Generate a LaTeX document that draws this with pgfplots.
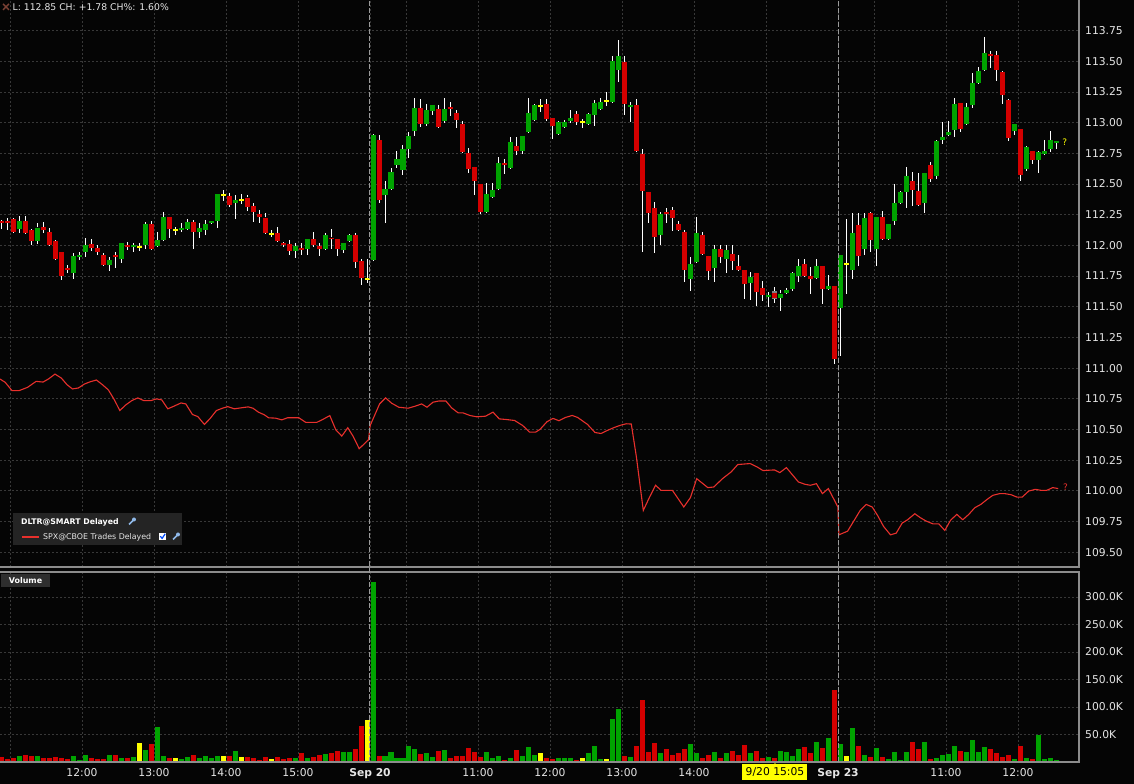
\documentclass[border=0pt]{standalone}
\usepackage{pgfplots}
\pgfplotsset{compat=1.18}
\usepackage{pgfplotstable}
\usepackage{fontspec}
\setmainfont{DejaVu Sans}

\definecolor{bg}{HTML}{050505}
\definecolor{cgreen}{HTML}{00A300}
\definecolor{cred}{HTML}{D40000}
\definecolor{cyel}{HTML}{FFFF00}
\definecolor{gridc}{HTML}{383838}
\definecolor{axisc}{HTML}{8C8C8C}
\definecolor{dayc}{HTML}{9A9A9A}
\definecolor{spx}{HTML}{E8302C}
\definecolor{lbl}{HTML}{E6E6E6}
\definecolor{boxc}{HTML}{242424}
\definecolor{volc}{HTML}{2E2E2E}
\definecolor{iconc}{HTML}{8FB8E8}
\definecolor{xred}{HTML}{7A4034}

\begin{document}
% u = bars since Sep 20 09:30 (5 min bars), candle centre at k+0.5
\pgfplotstableread{
u o h l c v
-61.5 112.198 112.210 112.130 112.185 8.9
-60.5 112.198 112.220 112.125 112.185 5.3
-59.5 112.212 112.220 112.098 112.111 7.1
-58.5 112.133 112.239 112.098 112.198 10.7
-57.5 112.198 112.239 112.098 112.103 12.0
-56.5 112.125 112.136 112.003 112.038 10.7
-55.5 112.038 112.179 112.011 112.147 10.1
-54.5 112.147 112.193 112.098 112.128 7.1
-53.5 112.106 112.139 111.998 112.003 7.1
-52.5 112.035 112.043 111.885 111.889 8.9
-51.5 111.946 111.950 111.717 111.750 7.1
-50.5 111.815 111.840 111.777 111.802 5.3
-49.5 111.774 111.935 111.728 111.913 10.7
-48.5 111.908 111.948 111.880 111.921 3.5
-47.5 111.948 112.057 111.908 112.003 12.6
-46.5 112.011 112.052 111.957 111.981 7.1
-45.5 111.978 112.003 111.921 111.948 5.3
-44.5 111.921 111.940 111.835 111.840 5.3
-43.5 111.840 111.908 111.793 111.880 12.6
-42.5 111.921 111.948 111.818 111.908 12.6
-41.5 111.889 112.022 111.859 112.019 7.1
-40.5 112.003 112.030 111.962 111.984 7.1
-39.5 111.984 112.016 111.948 112.000 8.9
-38.5 111.990 112.016 111.957 111.990 33.7
-37.5 112.003 112.193 111.970 112.174 21.6
-36.5 112.174 112.198 111.965 111.970 31.9
-35.5 111.995 112.111 111.989 112.043 63.3
-34.5 112.043 112.272 112.040 112.231 10.7
-33.5 112.231 112.235 112.062 112.130 7.1
-32.5 112.130 112.152 112.084 112.130 7.1
-31.5 112.128 112.185 112.106 112.141 5.3
-30.5 112.136 112.215 112.125 112.193 8.9
-29.5 112.193 112.207 111.973 112.111 12.6
-28.5 112.111 112.179 112.062 112.141 7.1
-27.5 112.128 112.207 112.084 112.177 10.7
-26.5 112.185 112.201 112.183 112.198 7.1
-25.5 112.201 112.420 112.141 112.418 10.7
-24.5 112.410 112.451 112.364 112.410 10.7
-23.5 112.402 112.424 112.315 112.329 10.7
-22.5 112.348 112.410 112.217 112.370 19.8
-21.5 112.370 112.418 112.337 112.370 8.9
-20.5 112.391 112.410 112.283 112.315 8.9
-19.5 112.321 112.342 112.193 112.272 7.1
-18.5 112.255 112.288 112.179 112.234 3.5
-17.5 112.228 112.261 112.100 112.103 8.9
-16.5 112.095 112.125 112.071 112.095 5.3
-15.5 112.098 112.147 112.035 112.038 8.9
-14.5 112.019 112.030 111.989 112.003 5.3
-13.5 112.011 112.043 111.921 111.957 7.1
-12.5 111.957 112.016 111.899 111.995 7.1
-11.5 111.981 112.016 111.921 111.967 15.6
-10.5 111.973 112.055 111.921 112.052 7.1
-9.5 112.052 112.109 111.989 112.003 8.9
-8.5 111.995 112.016 111.913 111.973 12.6
-7.5 111.973 112.103 111.970 112.084 14.4
-6.5 112.065 112.133 111.973 112.052 16.2
-5.5 112.052 112.055 111.913 111.973 19.2
-4.5 111.965 112.022 111.935 112.019 18.0
-3.5 112.038 112.092 112.035 112.084 18.0
-2.5 112.084 112.098 111.818 111.867 23.4
-1.5 111.872 111.889 111.677 111.736 65.1
-0.5 111.730 111.889 111.696 111.730 77.2
0.5 111.881 112.905 111.870 112.900 327.2
1.5 112.859 112.900 112.348 112.370 10.0
2.5 112.411 112.525 112.185 112.459 10.1
3.5 112.459 112.628 112.450 112.598 17.4
4.5 112.655 112.769 112.628 112.704 6.5
5.5 112.614 112.818 112.574 112.785 6.5
6.5 112.785 112.927 112.712 112.891 28.3
7.5 112.932 113.201 112.894 113.120 22.8
8.5 113.120 113.193 112.965 112.989 13.8
9.5 112.989 113.152 112.976 113.103 15.6
10.5 113.095 113.146 113.063 113.144 8.3
11.5 113.111 113.144 112.963 112.965 19.2
12.5 113.014 113.201 113.000 113.111 21.0
13.5 113.128 113.169 113.055 113.111 6.5
14.5 113.079 113.103 112.959 113.022 10.1
15.5 112.989 113.014 112.755 112.761 10.1
16.5 112.753 112.794 112.590 112.622 24.6
17.5 112.639 112.641 112.411 112.525 17.4
18.5 112.500 112.503 112.256 112.272 8.3
19.5 112.272 112.508 112.265 112.419 17.4
20.5 112.394 112.508 112.390 112.451 6.5
21.5 112.459 112.720 112.455 112.671 10.1
22.5 112.671 112.704 112.582 112.655 2.9
23.5 112.631 112.883 112.628 112.843 6.5
24.5 112.810 112.883 112.737 112.769 21.0
25.5 112.769 112.894 112.745 112.891 10.1
26.5 112.924 113.201 112.920 113.079 26.4
27.5 113.022 113.150 113.020 113.144 12.0
28.5 113.140 113.193 113.087 113.140 15.6
29.5 113.152 113.193 113.014 113.030 6.5
30.5 113.038 113.040 112.867 112.973 4.7
31.5 112.908 113.010 112.905 113.006 6.5
32.5 112.965 113.022 112.960 113.006 6.5
33.5 113.014 113.103 112.997 113.038 6.5
34.5 113.071 113.095 112.981 113.006 2.9
35.5 113.005 113.030 112.960 113.005 6.5
36.5 112.989 113.075 112.985 113.071 15.6
37.5 113.063 113.185 112.973 113.160 28.3
38.5 113.111 113.201 113.100 113.169 4.7
39.5 113.180 113.250 113.136 113.180 4.7
40.5 113.172 113.544 113.158 113.503 78.9
41.5 113.430 113.674 113.335 113.544 97.0
42.5 113.498 113.544 113.063 113.153 10.1
43.5 113.126 113.172 113.009 113.145 8.3
44.5 113.145 113.191 112.770 112.772 28.3
45.5 112.745 112.786 111.949 112.446 113.4
46.5 112.433 112.435 112.185 112.267 17.4
47.5 112.302 112.351 111.941 112.066 33.7
48.5 112.088 112.270 112.003 112.256 15.6
49.5 112.272 112.302 112.185 112.259 22.8
50.5 112.289 112.313 112.120 112.226 12.0
51.5 112.172 112.196 112.120 112.126 15.6
52.5 112.109 112.126 111.704 111.799 22.8
53.5 111.729 111.903 111.631 111.846 31.9
54.5 111.867 112.232 111.860 112.101 15.6
55.5 112.085 112.109 111.930 111.933 6.5
56.5 111.914 111.916 111.718 111.794 12.0
57.5 111.819 112.003 111.704 111.971 17.4
58.5 111.971 112.003 111.859 111.908 6.5
59.5 111.892 112.003 111.778 111.963 15.6
60.5 111.930 112.003 111.800 111.876 19.2
61.5 111.832 111.922 111.790 111.799 12.0
62.5 111.799 111.800 111.563 111.688 30.0
63.5 111.696 111.783 111.555 111.742 15.6
64.5 111.775 111.777 111.509 111.623 19.2
65.5 111.655 111.710 111.550 111.596 6.5
66.5 111.582 111.623 111.500 111.596 8.3
67.5 111.617 111.664 111.533 111.569 6.5
68.5 111.574 111.636 111.468 111.609 19.2
69.5 111.615 111.650 111.610 111.636 17.4
70.5 111.645 111.786 111.631 111.772 10.1
71.5 111.753 111.889 111.704 111.832 22.8
72.5 111.846 111.889 111.750 111.753 26.4
73.5 111.751 111.827 111.604 111.726 15.6
74.5 111.737 111.889 111.735 111.832 35.5
75.5 111.832 111.834 111.522 111.642 24.6
76.5 111.642 111.759 111.640 111.669 42.8
77.5 111.669 111.670 111.033 111.071 131.5
78.5 111.492 111.925 111.098 111.922 31.9
79.5 111.850 112.215 111.604 111.850 10.1
80.5 111.800 112.267 111.726 112.101 62.7
81.5 112.166 112.267 111.832 111.914 28.3
82.5 111.971 112.267 111.922 112.223 12.0
83.5 112.264 112.272 111.949 112.044 8.3
84.5 111.971 112.235 111.832 112.232 24.6
85.5 112.232 112.281 112.050 112.052 8.3
86.5 112.052 112.175 112.050 112.174 4.7
87.5 112.199 112.501 112.166 112.349 17.4
88.5 112.346 112.440 112.340 112.435 2.9
89.5 112.435 112.639 112.308 112.566 17.4
90.5 112.525 112.598 112.321 112.452 35.5
91.5 112.444 112.590 112.320 112.329 22.8
92.5 112.346 112.592 112.264 112.590 35.5
93.5 112.655 112.680 112.517 112.541 4.7
94.5 112.566 112.855 112.541 112.851 6.5
95.5 112.859 113.006 112.827 112.884 12.0
96.5 112.903 113.014 112.900 112.924 13.8
97.5 112.941 113.202 112.886 113.153 28.3
98.5 113.161 113.162 112.927 112.949 19.2
99.5 112.990 113.161 112.985 113.128 17.4
100.5 113.145 113.405 113.117 113.324 40.9
101.5 113.324 113.454 113.320 113.422 17.4
102.5 113.430 113.699 113.425 113.568 26.4
103.5 113.560 113.585 113.449 113.547 22.8
104.5 113.552 113.585 113.340 113.430 15.6
105.5 113.414 113.422 113.153 113.226 8.3
106.5 113.185 113.190 112.851 112.878 12.0
107.5 112.935 112.992 112.900 112.990 4.7
108.5 112.949 112.950 112.525 112.574 28.3
109.5 112.623 112.810 112.607 112.802 6.5
110.5 112.770 112.772 112.664 112.696 4.7
111.5 112.696 112.770 112.590 112.761 48.2
112.5 112.745 112.859 112.740 112.770 4.7
113.5 112.789 112.933 112.761 112.859 6.5
114.5 112.835 112.852 112.786 112.851 2.9
}\candles

% SPX overlay, read in the price scale of the chart
\pgfplotstableread{
u p
-61.67 110.911
-60.8 110.884
-59.66 110.816
-58.5 110.816
-57.08 110.843
-55.64 110.892
-54.5 110.886
-53.6 110.911
-52.5 110.951
-51.45 110.919
-50.5 110.865
-49.6 110.830
-48.6 110.838
-47.6 110.870
-46.6 110.889
-45.6 110.903
-44.6 110.865
-43.6 110.822
-42.6 110.741
-41.7 110.654
-40.7 110.700
-39.7 110.735
-38.7 110.757
-37.7 110.735
-36.5 110.735
-35.6 110.749
-34.7 110.741
-33.7 110.668
-32.7 110.689
-31.5 110.716
-30.7 110.708
-29.6 110.622
-28.7 110.605
-27.6 110.541
-26.7 110.586
-25.6 110.654
-24.6 110.673
-23.7 110.686
-22.6 110.668
-21.5 110.676
-20.3 110.684
-19.5 110.673
-18.6 110.641
-17.6 110.619
-16.9 110.595
-15.75 110.592
-14.7 110.578
-13.75 110.595
-11.85 110.595
-10.7 110.557
-8.9 110.557
-7.7 110.586
-6.7 110.613
-5.7 110.497
-4.7 110.446
-3.7 110.514
-2.8 110.443
-1.8 110.343
-0.25 110.416
0.03 110.532
1.6 110.708
2.6 110.757
3.6 110.714
4.8 110.681
6.35 110.673
7.5 110.689
8.6 110.708
9.5 110.681
10.5 110.722
11.5 110.732
12.65 110.732
13.6 110.676
14.7 110.635
15.5 110.635
16.7 110.613
17.8 110.603
19.25 110.608
20.5 110.641
21.55 110.586
22.7 110.581
24.1 110.573
25.45 110.532
26.6 110.478
27.6 110.478
28.33 110.500
29.5 110.563
30.5 110.590
31.5 110.571
32.6 110.598
33.7 110.614
34.6 110.598
36.25 110.541
37.5 110.475
38.5 110.467
39.7 110.495
40.7 110.516
41.8 110.535
42.7 110.546
43.55 110.544
44.4 110.276
45.55 109.840
46.6 109.949
47.6 110.045
48.5 110.004
50.4 110.004
52.3 109.868
53.4 109.944
54.45 110.099
56.3 110.026
57.3 110.031
58.75 110.099
60.2 110.154
61.3 110.214
63.35 110.222
64.5 110.195
65.5 110.165
67.4 110.170
68.3 110.148
69.4 110.189
71.4 110.072
72.5 110.053
73.4 110.045
74.4 110.058
75.4 109.977
76.4 110.018
77.98 109.868
78.15 109.641
79.6 109.671
80.7 109.759
81.7 109.840
82.7 109.889
83.7 109.868
84.6 109.799
85.6 109.709
86.75 109.641
87.7 109.655
88.7 109.737
89.6 109.764
90.8 109.813
91.75 109.780
92.7 109.753
93.8 109.731
94.8 109.731
95.8 109.677
96.75 109.759
97.8 109.808
98.8 109.764
99.8 109.808
100.8 109.862
101.8 109.889
102.8 109.928
103.8 109.963
104.95 109.977
105.8 109.977
106.85 109.968
107.8 109.949
108.7 109.949
109.8 109.998
110.9 110.012
111.8 110.004
112.8 110.004
113.8 110.026
114.7 110.018
}\spxdata

\begin{tikzpicture}[x=1bp,y=1bp]
\fill[bg] (0,0) rectangle (1134,784);

\pgfplotsset{
  panel/.style={
    scale only axis, width=1079bp,
    xmin=-61.667, xmax=118.167,
    axis line style={draw=none},
    major tick length=0pt,
    xmajorgrids, ymajorgrids,
    grid style={gridc, dash pattern=on 2bp off 2bp, line width=0.8bp},
    xtick={-60,-48,-36,-24,-12,0,6,18,30,42,54,66,78,84,96,108},
    tick label style={font=\fontsize{10.8}{13}\selectfont, text=lbl},
    /pgf/number format/assume math mode=true,
    yticklabel pos=right,
    yticklabel style={anchor=west, inner sep=0pt, xshift=6bp},
  },
  pricebox/.style={scale only axis, width=1079bp, height=567bp,
    at={(0bp,217bp)}, anchor=south west,
    xmin=-61.667, xmax=118.167, ymin=109.379, ymax=114},
  up/.style={restrict expr to domain={\thisrow{c}-\thisrow{o}}{0.001:1000}},
  down/.style={restrict expr to domain={\thisrow{c}-\thisrow{o}}{-1000:-0.001}},
  flat/.style={restrict expr to domain={\thisrow{c}-\thisrow{o}}{-0.0009:0.0009}},
  nomark/.style={only marks, mark=none, mark size=0pt,
    mark options={draw=none, fill=none}},
  body/.style={nomark,
    error bars/.cd, y dir=both, y explicit, error mark=none,
    error bar style={draw=#1, line width=5bp}},
  wick/.style={nomark,
    error bars/.cd, y dir=both, y explicit, error mark=none,
    error bar style={draw=white, line width=1bp}},
}

% price panel: grid, labels, SPX overlay and wicks
\begin{axis}[panel, pricebox,
  ytick={109.5,109.75,110,110.25,110.5,110.75,111,111.25,111.5,111.75,112,112.25,112.5,112.75,113,113.25,113.5,113.75},
  yticklabel style={/pgf/number format/.cd, fixed, fixed zerofill, precision=2},
  xticklabels={}]
\addplot[spx, line width=1.1bp] table[x=u, y=p] {\spxdata};
% upper wicks: body top to high
\addplot[wick] table[x=u, y expr={max(\thisrow{o},\thisrow{c})},
  y error plus expr={\thisrow{h}-max(\thisrow{o},\thisrow{c})}, y error minus expr={0}] {\candles};
% lower wicks: low to body bottom
\addplot[wick] table[x=u, y expr={min(\thisrow{o},\thisrow{c})},
  y error plus expr={0}, y error minus expr={min(\thisrow{o},\thisrow{c})-\thisrow{l}}] {\candles};
\coordinate (qc) at (axis cs:115.8,112.84);
\coordinate (qs) at (axis cs:115.9,110.03);
\end{axis}

% price panel: candle bodies
\begin{axis}[pricebox, hide axis]
\addplot[body=gray] coordinates {(67.5,111.593) +- (0,0.033)};
\addplot[up, body=cgreen] table[x=u, y expr={(\thisrow{o}+\thisrow{c})/2}, y error expr={max(abs(\thisrow{c}-\thisrow{o})/2,0.0065)}] {\candles};
\addplot[down, body=cred] table[x=u, y expr={(\thisrow{o}+\thisrow{c})/2}, y error expr={max(abs(\thisrow{c}-\thisrow{o})/2,0.0065)}] {\candles};
\addplot[flat, body=cyel] table[x=u, y expr={(\thisrow{o}+\thisrow{c})/2}, y error expr={0.0065}] {\candles};
\end{axis}

% volume panel
\begin{axis}[panel, at={(0bp,22bp)}, anchor=south west, height=190bp,
  ymin=0, ymax=345.5,
  ytick={50,100,150,200,250,300},
  yticklabels={50.0K,100.0K,150.0K,200.0K,250.0K,300.0K},
  xticklabels={,12:00,13:00,14:00,15:00,\textbf{Sep 20},,11:00,12:00,13:00,14:00,,\textbf{Sep 23},,11:00,12:00},
  xticklabel style={anchor=base, inner sep=0pt, yshift=-14.5bp}]
\addplot[up, ycomb, draw=cgreen, line width=5bp] table[x=u, y=v] {\candles};
\addplot[down, ycomb, draw=cred, line width=5bp] table[x=u, y=v] {\candles};
\addplot[flat, ycomb, draw=cyel, line width=5bp] table[x=u, y=v] {\candles};
\coordinate (cur) at (axis cs:67.5,0);
\end{axis}

% panel frames and day separators
\draw[axisc, line width=1.2bp] (0,217) -- (1079,217) -- (1079,784);
\draw[axisc, line width=1.2bp] (0,212) -- (1079,212) -- (1079,22) -- (0,22);
\draw[dayc, line width=1bp, dash pattern=on 5bp off 2bp] (369.7,22) -- (369.7,784);
\draw[dayc, line width=1bp, dash pattern=on 5bp off 2bp] (838,22) -- (838,784);

% last value markers
\node[cyel, font=\fontsize{9}{10}\selectfont, inner sep=0pt] at (qc) {?};
\node[spx, font=\fontsize{9}{10}\selectfont, inner sep=0pt] at (qs) {?};

% cursor label
\fill[cyel] ([yshift=-1bp]cur) -- ++(-3,-3.5) -- ++(6,0) -- cycle;
\node[fill=cyel, text=black, inner sep=0pt, minimum width=65bp, minimum height=16bp,
  font=\fontsize{10.8}{12}\selectfont] at ([yshift=-10bp]cur) {9/20 15:05};

% header
\draw[xred, line width=1.4bp] (3,774) -- (9,780) (3,780) -- (9,774);
\node[anchor=west, inner sep=0pt, text=lbl, font=\fontsize{9.3}{11}\selectfont] at (12.5,777)
  {L: 112.85 CH: +1.78 CH\%: 1.60\%};

% legend box
\fill[boxc] (13,239) rectangle (182,271);
\node[anchor=west, inner sep=0pt, text=white, font=\bfseries\fontsize{7.8}{9}\selectfont] at (21,262) {DLTR@SMART Delayed};
\draw[iconc, line width=1.6bp] (129,259.5) -- (133.5,264);
\fill[iconc] (134,264.5) circle (2bp);
\draw[spx, line width=1.3bp] (22,247) -- (39,247);
\node[anchor=west, inner sep=0pt, text=lbl, font=\fontsize{7.9}{9}\selectfont] at (43,247) {SPX@CBOE Trades Delayed};
\fill[white] (159,244) rectangle (166,251);
\draw[blue!70!cyan, line width=1.2bp] (160.3,247.8) -- (162.1,245.6) -- (165.2,250.2);
\draw[iconc, line width=1.6bp] (173,244.5) -- (177.5,249);
\fill[iconc] (178,249.5) circle (2bp);

% volume tag
\fill[volc] (1,197) rectangle (50,210);
\node[text=white, inner sep=0pt, font=\bfseries\fontsize{8}{9}\selectfont] at (25.5,203.5) {Volume};

\pgfresetboundingbox
\path[use as bounding box] (0,0) rectangle (1134,784);
\end{tikzpicture}
\end{document}
